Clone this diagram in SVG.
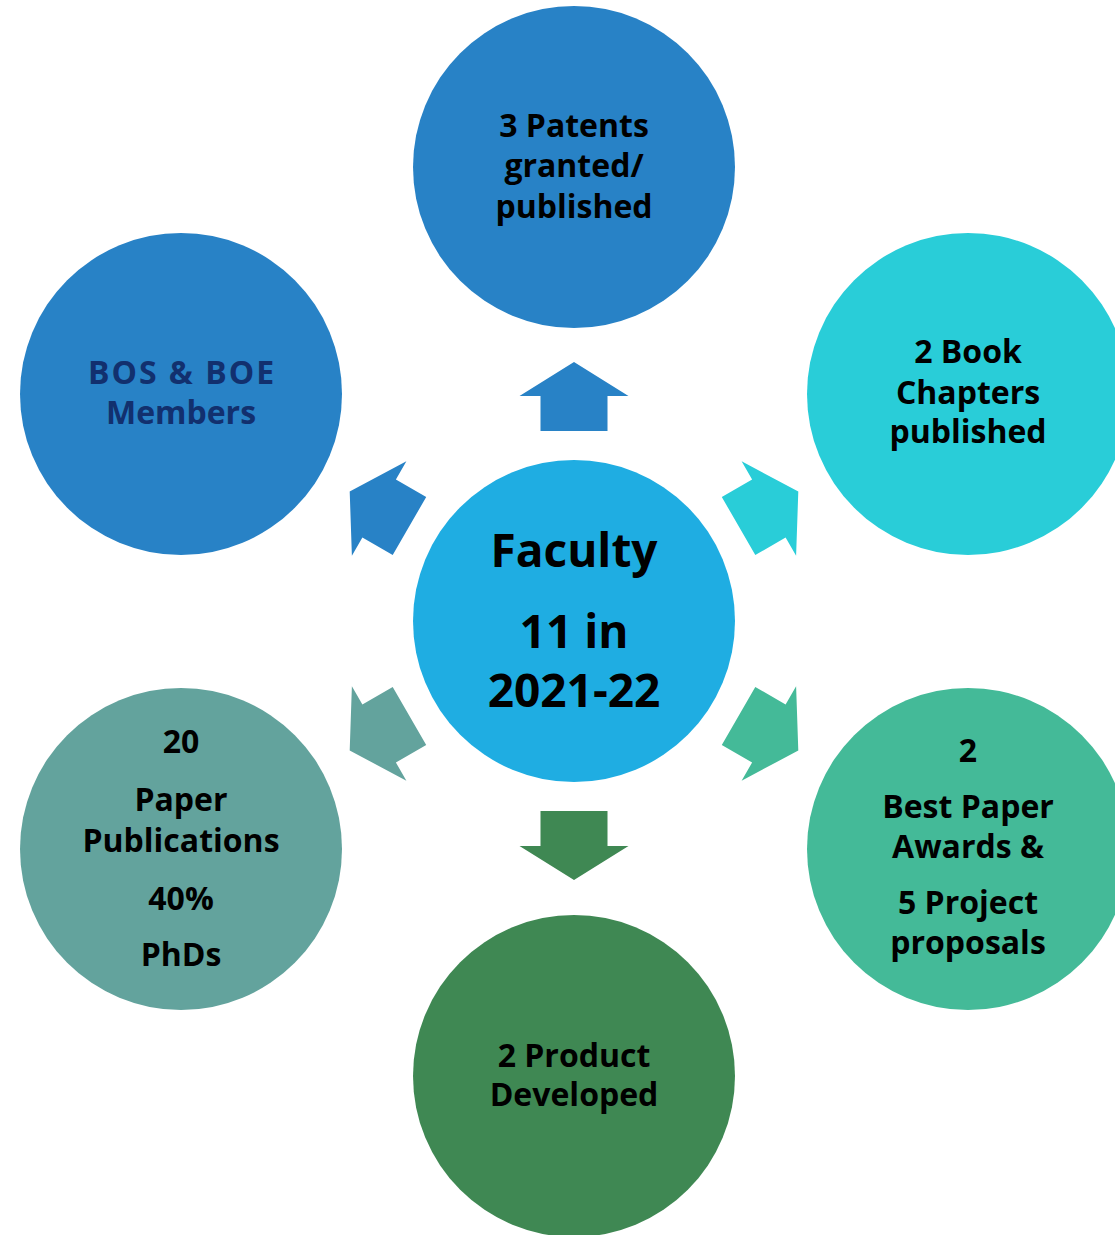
<svg xmlns="http://www.w3.org/2000/svg" width="1115" height="1235" viewBox="0 0 1115 1235">
<style>
.t{font-family:"Open Sans","Liberation Sans",sans-serif;font-weight:700;font-size:32px;fill:#000;text-anchor:middle}
.c{font-size:46px}
.nv{fill:#12306E}
</style>
<defs>
<path id="arr" d="M -33.5 -190 L -33.5 -225 L -54.5 -225 L 0 -259 L 54.5 -225 L 33.5 -225 L 33.5 -190 Z"/>
</defs>
<rect width="1115" height="1235" fill="#fff"/>
<g id="connectors">
<use href="#arr" transform="translate(574 621)" fill="#2882C6"/>
<use href="#arr" transform="translate(574 621) rotate(60)" fill="#29CDD8"/>
<use href="#arr" transform="translate(574 621) rotate(120)" fill="#44BA98"/>
<use href="#arr" transform="translate(574 621) rotate(180)" fill="#3F8853"/>
<use href="#arr" transform="translate(574 621) rotate(240)" fill="#63A39D"/>
<use href="#arr" transform="translate(574 621) rotate(300)" fill="#2882C6"/>
</g>
<g id="center">
<circle cx="574" cy="621" r="161" fill="#1FADE2"/>
<text class="t c" x="574" y="567">Faculty</text>
<text class="t c" x="574" y="648">11 in</text>
<text class="t c" x="574" y="707">2021-22</text>
</g>
<g id="patents">
<circle cx="574" cy="167" r="161" fill="#2882C6"/>
<text class="t" x="574" y="137">3 Patents</text>
<text class="t" x="574" y="177">granted/</text>
<text class="t" x="574" y="218">published</text>
</g>
<g id="bos">
<circle cx="181" cy="394" r="161" fill="#2882C6"/>
<text class="t nv" x="182" y="384" style="letter-spacing:2px">BOS &amp; BOE</text>
<text class="t nv" x="181" y="424">Members</text>
</g>
<g id="books">
<circle cx="968" cy="394" r="161" fill="#29CDD8"/>
<text class="t" x="968" y="363">2 Book</text>
<text class="t" x="968" y="404">Chapters</text>
<text class="t" x="968" y="443">published</text>
</g>
<g id="awards">
<circle cx="968" cy="849" r="161" fill="#44BA98"/>
<text class="t" x="968" y="762">2</text>
<text class="t" x="968" y="818">Best Paper</text>
<text class="t" x="968" y="858">Awards &amp;</text>
<text class="t" x="968" y="914">5 Project</text>
<text class="t" x="968" y="954">proposals</text>
</g>
<g id="product">
<circle cx="574" cy="1076" r="161" fill="#3F8853"/>
<text class="t" x="574" y="1067">2 Product</text>
<text class="t" x="574" y="1106">Developed</text>
</g>
<g id="papers">
<circle cx="181" cy="849" r="161" fill="#63A39D"/>
<text class="t" x="181" y="753">20</text>
<text class="t" x="181" y="811">Paper</text>
<text class="t" x="181" y="852">Publications</text>
<text class="t" x="181" y="910">40%</text>
<text class="t" x="181" y="966">PhDs</text>
</g>
</svg>
